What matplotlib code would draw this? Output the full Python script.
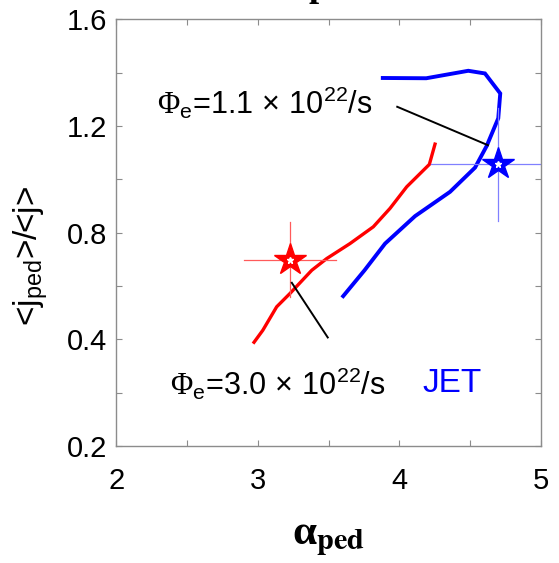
import matplotlib
matplotlib.use("Agg")
import matplotlib.pyplot as plt
from matplotlib.ticker import FixedLocator

plt.rcParams['font.family'] = ['Liberation Sans', 'DejaVu Sans']
plt.rcParams['mathtext.fontset'] = 'custom'
plt.rcParams['mathtext.rm'] = 'Liberation Sans'
plt.rcParams['mathtext.it'] = 'Liberation Sans:italic'
plt.rcParams['mathtext.bf'] = 'Liberation Sans:bold'
plt.rcParams['mathtext.sf'] = 'Liberation Serif'

# ---- data ----
red_x = [2.972, 3.034, 3.132, 3.226, 3.380, 3.486, 3.650, 3.815, 3.933, 4.051, 4.211, 4.251]
red_y = [0.389, 0.434, 0.522, 0.572, 0.659, 0.703, 0.759, 0.822, 0.891, 0.972, 1.056, 1.132]

blue_x = [3.602, 3.753, 3.898, 4.110, 4.357, 4.534, 4.616, 4.698, 4.712, 4.604, 4.486, 4.189, 3.882]
blue_y = [0.562, 0.659, 0.759, 0.862, 0.953, 1.044, 1.125, 1.229, 1.322, 1.397, 1.407, 1.379, 1.380]

red_star = (3.226, 0.698)
red_xerr = (2.900, 3.548)
red_yerr = (0.559, 0.840)

blue_star = (4.695, 1.056)
blue_xerr = (4.220, 5.200)
blue_yerr = (0.843, 1.266)

lead_upper = ([3.984, 4.625], [1.272, 1.128])
lead_lower = ([3.239, 3.493], [0.612, 0.407])

xtick_vals = [2, 3, 4, 5]
xtick_labels = ['2', '3', '4', '5']
xminor_vals = [2.5, 3.5, 4.5]
ytick_vals = [0.0, 0.4, 0.8, 1.2, 1.6]
ytick_labels = ['0.2', '0.4', '0.8', '1.2', '1.6']
yminor_vals = [0.2, 0.6, 1.0, 1.4]

label_upper = r'$\mathsf{\Phi}_{\mathrm{e}}$=1.1$\,\times\,$10$^{22}$/s'
label_lower = r'$\mathsf{\Phi}_{\mathrm{e}}$=3.0$\,\times\,$10$^{22}$/s'

# ---- figure ----
fig = plt.figure(figsize=(5.59, 5.63), dpi=100)
ax = fig.add_axes([0.2084, 0.2078, 0.7594, 0.7579])

ax.plot(red_x, red_y, color='#ff0000', lw=2.4, solid_joinstyle='miter')
ax.plot(blue_x, blue_y, color='#0000ff', lw=2.8, solid_joinstyle='miter')

# error crosses
ax.plot(red_xerr, [red_star[1]] * 2, color='#ff5a5a', lw=0.9)
ax.plot([red_star[0]] * 2, red_yerr, color='#ff5a5a', lw=0.9)
ax.plot(blue_xerr, [blue_star[1]] * 2, color='#8080ff', lw=0.9)
ax.plot([blue_star[0]] * 2, blue_yerr, color='#8080ff', lw=0.9)

# stars
ax.plot(*red_star, marker='*', ms=24, color='#ff0000', mec='#ff0000', zorder=5)
ax.plot(*red_star, marker='*', ms=5, color='white', mec='white', zorder=6)
ax.plot(*blue_star, marker='*', ms=24, color='#0000ff', mec='#0000ff', zorder=5)
ax.plot(*blue_star, marker='*', ms=5, color='white', mec='white', zorder=6)

# leader lines
ax.plot(*lead_upper, color='black', lw=1.4)
ax.plot(*lead_lower, color='black', lw=1.4)

ax.text(2.285, 1.288, label_upper, fontsize=22, va='center', ha='left')
ax.text(2.38, 0.235, label_lower, fontsize=22, va='center', ha='left')
ax.text(4.16, 0.235, 'JET', fontsize=24, va='center', ha='left', color='#0000ff')

ax.set_xlim(2, 5)
ax.set_ylim(0, 1.6)
ax.xaxis.set_major_locator(FixedLocator(xtick_vals))
ax.xaxis.set_minor_locator(FixedLocator(xminor_vals))
ax.set_xticklabels(xtick_labels)
ax.yaxis.set_major_locator(FixedLocator(ytick_vals))
ax.yaxis.set_minor_locator(FixedLocator(yminor_vals))
ax.set_yticklabels(ytick_labels)

for s in ax.spines.values():
    s.set_color('#8c8c8c')
    s.set_linewidth(1.0)
ax.tick_params(which='both', direction='in', top=True, right=True, length=4,
               width=0.8, color='#8c8c8c', labelsize=21)
ax.tick_params(axis='x', which='both', pad=15)
ax.tick_params(axis='y', which='both', pad=7)

ax.set_xlabel(r'α$_{\mathbf{ped}}$', fontsize=31, fontfamily='Liberation Serif',
              fontweight='bold', math_fontfamily='stix', labelpad=18)
ax.set_ylabel(r'<j$_{\mathrm{ped}}$>/<j>', fontsize=24)
ax.yaxis.set_label_coords(-0.157, 0.445)

fig.text(0.570, 1.0 + 4 / 563, 'p', fontsize=26, fontfamily='Liberation Serif',
         fontweight='bold', va='baseline', ha='center')

fig.savefig('out.png', dpi=100)
